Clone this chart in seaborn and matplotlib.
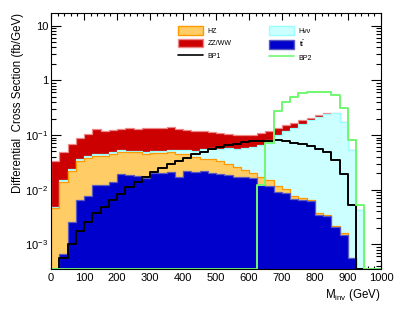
import numpy as np
import pandas as pd
import seaborn as sns
import matplotlib.pyplot as plt
from matplotlib.patches import Patch
from matplotlib.lines import Line2D
from matplotlib.ticker import MultipleLocator, LogLocator, FuncFormatter, NullFormatter

# 25 GeV bins from 0 to 1000 GeV
edges = np.arange(0, 1025, 25)
centers = edges[:-1] + 12.5

# differential cross sections (fb/GeV), one value per bin
tt = [0, 0.00067, 0.0026, 0.0066, 0.0077, 0.012, 0.012, 0.0139, 0.019, 0.0185,
      0.0177, 0.016, 0.0198, 0.0200, 0.0207, 0.017, 0.0219, 0.0213, 0.022, 0.0198,
      0.019, 0.0185, 0.0172, 0.0168, 0.016, 0.0121, 0.0116, 0.0091, 0.0087, 0.0067,
      0.0064, 0.0062, 0.0035, 0.0033, 0.0021, 0.0015, 0.00055, 0, 0, 0]
hz = [0.0047, 0.0132, 0.0196, 0.0274, 0.0303, 0.030, 0.030, 0.0311, 0.030, 0.0295,
      0.0303, 0.029, 0.0272, 0.0262, 0.0273, 0.027, 0.0231, 0.0187, 0.015, 0.0162,
      0.014, 0.0115, 0.0088, 0.0062, 0.0044, 0.0047, 0.0033, 0.0025, 0.0015, 0.0009,
      0.0005, 0.0004, 0.0002, 0.0001, 0.0001, 0.0001, 0.00001, 0, 0, 0]
hvv = [0.0002, 0.001, 0.0016, 0.002, 0.003, 0.003, 0.003, 0.003, 0.005, 0.004,
       0.004, 0.003, 0.004, 0.0048, 0.005, 0.009, 0.009, 0.012, 0.018, 0.021,
       0.023, 0.027, 0.030, 0.036, 0.0406, 0.049, 0.066, 0.088, 0.110, 0.128,
       0.155, 0.179, 0.213, 0.240, 0.248, 0.173, 0.052, 0.0042, 0, 0]
zzww = [0.029, 0.034, 0.046, 0.053, 0.063, 0.082, 0.073, 0.077, 0.075, 0.081,
        0.077, 0.085, 0.085, 0.082, 0.086, 0.075, 0.072, 0.068, 0.063, 0.055,
        0.051, 0.047, 0.044, 0.041, 0.039, 0.041, 0.039, 0.033, 0.032, 0.028,
        0.026, 0.022, 0.013, 0.007, 0.002, 0, 0, 0, 0, 0]
bp1 = [0, 0.00057, 0.0010, 0.00174, 0.0026, 0.0037, 0.0048, 0.0064, 0.0085, 0.0112,
       0.0139, 0.017, 0.021, 0.025, 0.029, 0.0333, 0.038, 0.044, 0.049, 0.055,
       0.061, 0.066, 0.069, 0.0735, 0.077, 0.078, 0.079, 0.080, 0.078, 0.072,
       0.0675, 0.063, 0.0555, 0.0495, 0.0347, 0.019, 0.0053, 0, 0, 0]
bp2 = [0, 0, 0, 0, 0, 0, 0, 0, 0, 0,
       0, 0, 0, 0, 0, 0, 0, 0, 0, 0,
       0, 0, 0, 0, 0, 0.012, 0.07, 0.275, 0.41, 0.50,
       0.58, 0.61, 0.62, 0.61, 0.54, 0.31, 0.081, 0.0052, 0, 0]

ymin, ymax = 3.53e-4, 17.3

sns.set_style("ticks")
plt.rcParams['font.family'] = ['Liberation Sans', 'DejaVu Sans']
plt.rcParams['mathtext.fontset'] = 'custom'
plt.rcParams['mathtext.rm'] = 'Liberation Sans'
plt.rcParams['mathtext.it'] = 'Liberation Sans:italic'
for k in ['text.color', 'axes.labelcolor', 'xtick.color', 'ytick.color', 'axes.edgecolor']:
    plt.rcParams[k] = 'black'

fig = plt.figure(figsize=(4.11, 3.16), dpi=100)
ax = fig.add_axes([0.1241, 0.1487, 0.8029, 0.8111])
ax.set_yscale('log')

# stack: (label, values, fill, edge), bottom first
stack = [('tt', tt, '#0000cc', '#5a5ac0'),
         ('HZ', hz, '#ffcc66', '#ff9900'),
         ('Hvv', hvv, '#ccffff', '#99ffff'),
         ('ZZ/WW', zzww, '#cc0000', '#ee8888')]
cum = np.cumsum([s[1] for s in stack], axis=0)

df = pd.DataFrame({'mass': centers})
for (name, _, fc, ec), tot in zip(stack, cum):
    df[name] = tot
df['BP1'] = np.maximum(bp1, ymin)   # empty bins sit on the axis like in ROOT
df['BP2'] = np.maximum(bp2, ymin)

# like THStack: draw the running sums from the top down
for name, _, fc, ec in reversed(stack):
    sns.histplot(data=df, x='mass', weights=name, bins=list(edges), element='step',
                 fill=True, color=fc, edgecolor=ec, linewidth=0.9, alpha=1, ax=ax)

sns.histplot(data=df, x='mass', weights='BP1', bins=list(edges), element='step',
             fill=False, color='black', linewidth=1.4, ax=ax)
sns.histplot(data=df, x='mass', weights='BP2', bins=list(edges), element='step',
             fill=False, color='#70f870', linewidth=1.4, ax=ax)

ax.set_xlim(0, 1000)
ax.set_ylim(ymin, ymax)

ax.xaxis.set_major_locator(MultipleLocator(100))
ax.xaxis.set_minor_locator(MultipleLocator(20))
ax.yaxis.set_major_locator(LogLocator(base=10))
ax.yaxis.set_minor_locator(LogLocator(base=10, subs=np.arange(2, 10)))
ax.yaxis.set_minor_formatter(NullFormatter())


def dec_fmt(v, pos):
    e = int(round(np.log10(v)))
    if e == 0:
        return '1'
    if e == 1:
        return '10'
    return r'$10^{%d}$' % e


ax.yaxis.set_major_formatter(FuncFormatter(dec_fmt))

ax.tick_params(which='both', direction='in', top=True, right=True, color='black', width=0.8)
ax.tick_params(axis='x', which='major', length=5, labelsize=8, pad=3)
ax.tick_params(axis='x', which='minor', length=2.5)
ax.tick_params(axis='y', which='major', length=7.5, labelsize=8, pad=2)
ax.tick_params(axis='y', which='minor', length=3.8)
for sp in ax.spines.values():
    sp.set_color('black')
    sp.set_linewidth(0.8)

ax.set_xlabel(r'M$_{\rm inv}$ (GeV)', fontsize=8.3, loc='right')
ax.xaxis.set_label_coords(1.0, -0.07)
ax.set_ylabel('Differential  Cross Section (fb/GeV)', fontsize=8.3, loc='top')
ax.yaxis.set_label_coords(-0.082, 1.0)

# legend in two columns, as in the ROOT TLegend
col1 = [Patch(facecolor='#ffcc66', edgecolor='#ff9900', linewidth=1, label='HZ'),
        Patch(facecolor='#cc0000', edgecolor='#ee8888', linewidth=1, label='ZZ/WW'),
        Line2D([], [], color='black', linewidth=1.2, label='BP1')]
col2 = [Patch(facecolor='#ccffff', edgecolor='#99ffff', linewidth=1, label='Hνν'),
        Patch(facecolor='#0000cc', edgecolor='#5a5ac0', linewidth=1, label=r't$\bar{\rm t}$'),
        Line2D([], [], color='#70f870', linewidth=1.2, label='BP2')]
leg_kw = dict(loc='upper left', bbox_transform=fig.transFigure, frameon=False,
              fontsize=5, handlelength=3.6, handleheight=1.54, labelspacing=0.58,
              handletextpad=0.7, borderpad=0, borderaxespad=0)
leg1 = ax.legend(handles=col1, bbox_to_anchor=(178 / 411, 1 - 26 / 316), **leg_kw)
ax.add_artist(leg1)
ax.legend(handles=col2, bbox_to_anchor=(269 / 411, 1 - 26 / 316), **leg_kw)

fig.savefig('out.png', dpi=100)
